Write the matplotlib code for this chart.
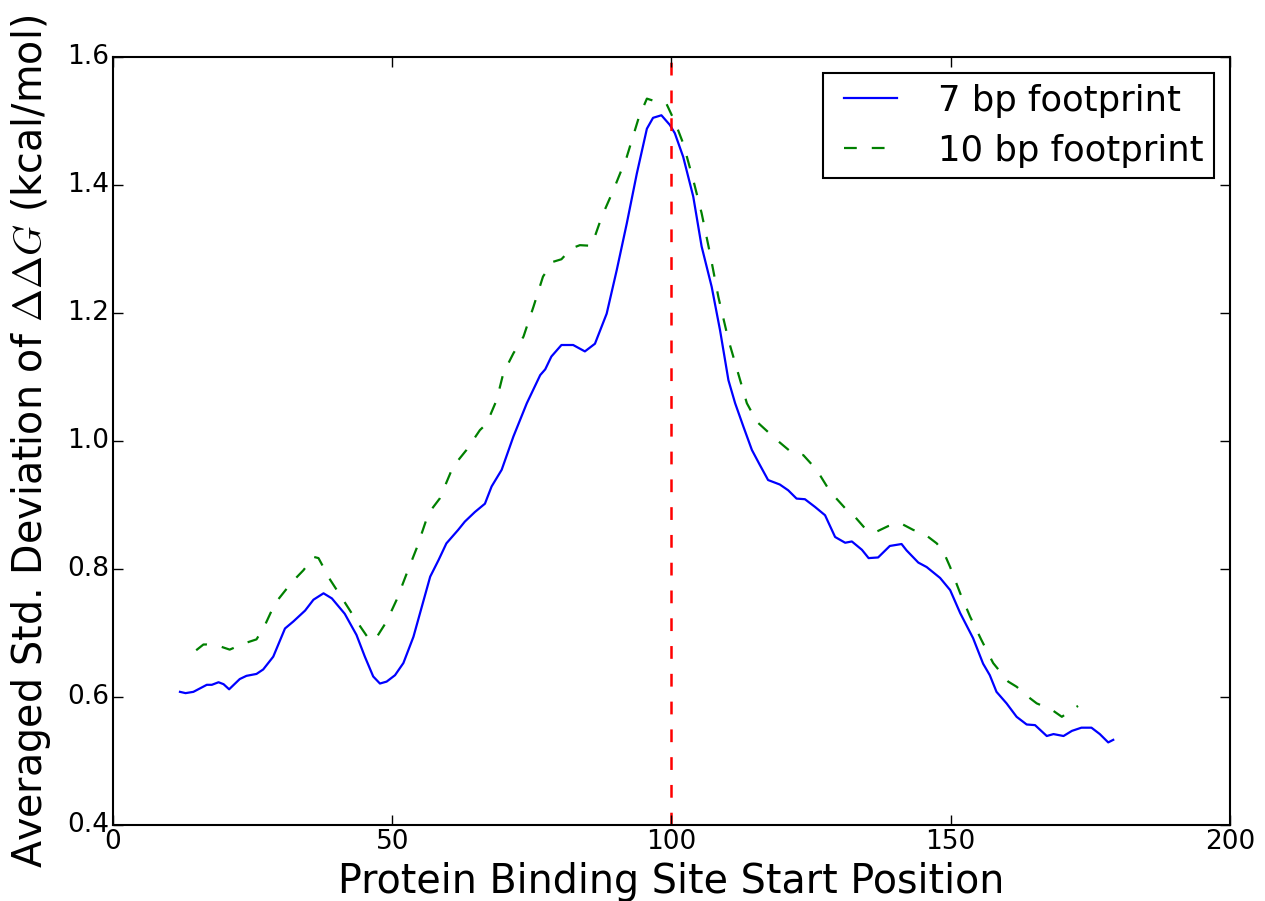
#!/usr/bin/env python3
"""Averaged std. deviation of ddG along protein binding site start positions."""

import matplotlib

matplotlib.use("Agg")
import matplotlib.pyplot as plt

# 7 bp footprint
x7 = [12, 13, 14.4, 16.8, 17.7, 18.9, 19.8, 20.8, 22.7, 23.9, 25.7, 26.9, 28.7,
      30.8, 32.3, 34.4, 35.9, 37.7, 39.2, 41.5, 43.6, 45.1, 46.6, 47.8, 49,
      50.5, 52, 53.8, 55.3, 56.8, 58.3, 59.7, 61.8, 63, 64.8, 66.6, 67.8, 69.6,
      71.7, 74.1, 76.5, 77.4, 78.5, 80.3, 82.4, 84.5, 86.3, 88.4, 90.2, 92,
      93.8, 95.6, 96.7, 98.2, 99.7, 100.6, 102.1, 103.9, 105.4, 107.2, 108.7,
      110.2, 111.4, 112.9, 114.4, 115.8, 117.3, 119.4, 120.9, 122.4, 123.9,
      125.7, 127.5, 129.3, 131.1, 132.3, 134.1, 135.3, 137, 139.1, 141.2,
      142.1, 144.2, 145.7, 148.1, 149.9, 151.7, 154, 155.8, 157, 158.2, 160,
      161.8, 163.6, 165.1, 167.2, 168.4, 170.2, 171.7, 173.4, 175.2, 176.7,
      178.2, 179.1]
y7 = [0.608, 0.606, 0.608, 0.619, 0.619, 0.623, 0.620, 0.612, 0.628, 0.633,
      0.636, 0.643, 0.663, 0.707, 0.718, 0.735, 0.752, 0.762, 0.754, 0.730,
      0.697, 0.663, 0.632, 0.621, 0.624, 0.634, 0.653, 0.694, 0.741, 0.788,
      0.814, 0.840, 0.861, 0.874, 0.889, 0.902, 0.929, 0.955, 1.007, 1.059,
      1.103, 1.112, 1.132, 1.150, 1.150, 1.140, 1.152, 1.199, 1.267, 1.340,
      1.418, 1.488, 1.505, 1.509, 1.494, 1.481, 1.444, 1.382, 1.304, 1.241,
      1.173, 1.095, 1.059, 1.022, 0.986, 0.963, 0.939, 0.932, 0.923, 0.910,
      0.909, 0.897, 0.884, 0.850, 0.841, 0.843, 0.830, 0.817, 0.818, 0.836,
      0.839, 0.829, 0.810, 0.803, 0.786, 0.767, 0.731, 0.692, 0.652, 0.634,
      0.608, 0.590, 0.569, 0.557, 0.556, 0.539, 0.542, 0.539, 0.547, 0.552,
      0.552, 0.542, 0.529, 0.533]

# 10 bp footprint
x10 = [14.9, 16.2, 16.8, 19.2, 20.9, 23.6, 25.7, 27.2, 29, 32, 34.1, 35.9,
       36.8, 38.9, 41.2, 43.9, 45.7, 46.9, 49, 50.8, 52.6, 54.4, 56.5, 58.5,
       60.9, 63.3, 65.7, 66.9, 68.7, 69.9, 71.7, 73.5, 75.3, 77, 78.8, 80.3,
       82.1, 83.6, 85.7, 87.5, 89.6, 92, 94.1, 95.6, 97.4, 99.1, 100.6, 102.1,
       103.9, 105.4, 106.9, 108.4, 110.2, 112.3, 113.5, 115.3, 118.8, 121.8,
       123.6, 126, 128.4, 131.4, 132.6, 134.9, 136.4, 138.8, 140.9, 143.3,
       145.1, 147.5, 148.7, 149.9, 151.7, 153.5, 155.5, 157.6, 160.3, 161.8,
       164.2, 165.4, 168.1, 169.9, 171.7, 172.8]
y10 = [0.673, 0.682, 0.682, 0.679, 0.674, 0.684, 0.690, 0.712, 0.746, 0.779,
       0.798, 0.819, 0.817, 0.783, 0.752, 0.715, 0.692, 0.689, 0.718, 0.752,
       0.793, 0.833, 0.887, 0.910, 0.960, 0.986, 1.017, 1.027, 1.064, 1.106,
       1.137, 1.163, 1.210, 1.257, 1.280, 1.284, 1.301, 1.306, 1.305, 1.350,
       1.392, 1.444, 1.504, 1.535, 1.530, 1.527, 1.499, 1.465, 1.408, 1.356,
       1.293, 1.225, 1.158, 1.095, 1.059, 1.030, 1.002, 0.980, 0.978, 0.955,
       0.921, 0.892, 0.884, 0.861, 0.857, 0.867, 0.872, 0.861, 0.856, 0.840,
       0.827, 0.803, 0.762, 0.725, 0.689, 0.653, 0.624, 0.616, 0.598, 0.590,
       0.580, 0.569, 0.580, 0.586]

center = 100


def main() -> None:
    plt.style.use("classic")
    plt.rcParams["mathtext.fontset"] = "cm"
    plt.rcParams["lines.scale_dashes"] = False
    fig = plt.figure(figsize=(12.65, 9.01), dpi=100, facecolor="white")
    ax = fig.add_axes([0.0893, 0.0844, 0.8830, 0.8523])
    dash = (0, (9.2, 10.8))
    ax.plot(x7, y7, "-", color="blue", lw=1.6, label="7 bp footprint")
    ax.plot(x10, y10, ls=dash, color="green", lw=1.6, label="10 bp footprint")
    ax.axvline(center, color="red", ls=dash, lw=1.8)
    ax.set_xlim(0, 200)
    ax.set_ylim(0.4, 1.6)
    ax.set_xticks([0, 50, 100, 150, 200])
    ax.set_yticks([0.4, 0.6, 0.8, 1.0, 1.2, 1.4, 1.6])
    ax.tick_params(labelsize=19, length=7, width=1, pad=3)
    for s in ax.spines.values():
        s.set_linewidth(1.5)
    ax.set_xlabel("Protein Binding Site Start Position", fontsize=28.5, labelpad=5)
    ax.set_ylabel(r"Averaged Std. Deviation of $\Delta\Delta G$ (kcal/mol)",
                  fontsize=28.5, labelpad=10)
    leg = ax.legend(loc="upper right", fontsize=25.5, handlelength=2.1,
                    handletextpad=0.85, borderaxespad=0.45, borderpad=0.3,
                    labelspacing=0.45, fancybox=False)
    leg.get_frame().set_linewidth(1.5)
    fig.savefig("out.png", dpi=100, facecolor="white")
    plt.close(fig)


if __name__ == "__main__":
    main()
